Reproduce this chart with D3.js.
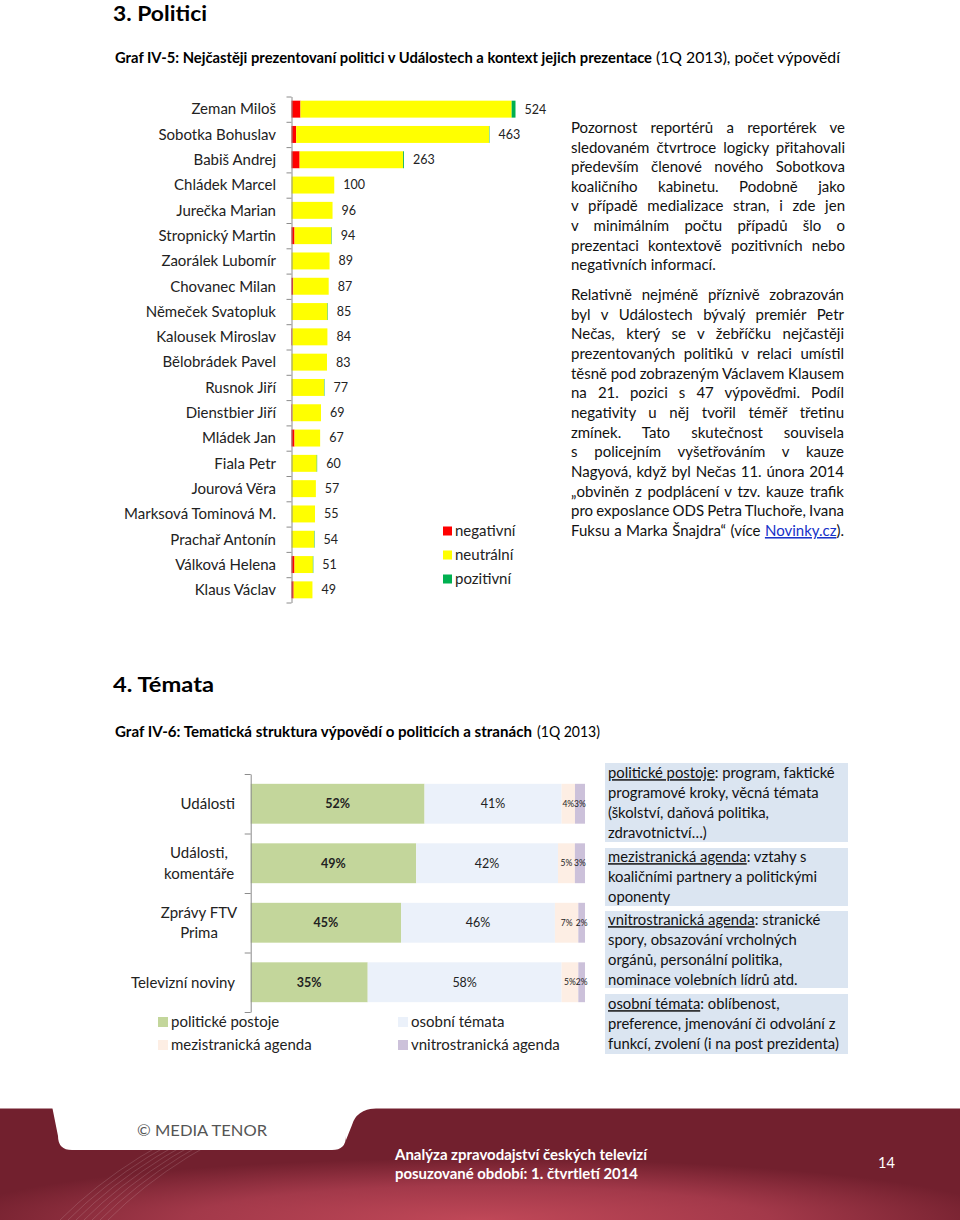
<!DOCTYPE html>
<html><head><meta charset="utf-8">
<script src="https://cdn.jsdelivr.net/npm/d3@7"></script>
<style>
html,body{margin:0;padding:0;background:#fff;}
svg{display:block;font-family:Lato, "Open Sans", sans-serif;}
</style></head>
<body>
<svg id="c" width="960" height="1220"></svg>
<script>
// ---------- DATA ----------
const politicians = ["Zeman Miloš","Sobotka Bohuslav","Babiš Andrej","Chládek Marcel","Jurečka Marian","Stropnický Martin","Zaorálek Lubomír","Chovanec Milan","Němeček Svatopluk","Kalousek Miroslav","Bělobrádek Pavel","Rusnok Jiří","Dienstbier Jiří","Mládek Jan","Fiala Petr","Jourová Věra","Marksová Tominová M.","Prachař Antonín","Válková Helena","Klaus Václav"];
const totals   = [524,463,263,100,96,94,89,87,85,84,83,77,69,67,60,57,55,54,51,49];
const negative = [21,11,19,0,0,7,0,4,0,2,0,0,2,7,0,0,0,0,7,5];
const positive = [9,1,2,0,0,1,0,0,1,0,0,1,0,0,1,0,0,1,1,0];
const toneKeys = ["negativní","neutrální","pozitivní"];
const toneColors = ["#ff0000","#ffff00","#00b050"];

const media = ["Události","Události, komentáře","Zprávy FTV Prima","Televizní noviny"];
const mediaLabelLines = [["Události"],["Události,","komentáře"],["Zprávy FTV","Prima"],["Televizní noviny"]];
const postoje = [52,49,45,35];
const osobni  = [41,42,46,58];
const mezi    = [4,5,7,5];
const vnitro  = [3,3,2,2];
const topicKeys = ["politické postoje","osobní témata","mezistranická agenda","vnitrostranická agenda"];
const topicColors = ["#c3d69b","#ebf1fa","#fdeee4","#ccc1da"];

const para1 = ["Pozornost reportérů a reportérek ve","sledovaném čtvrtroce logicky přitahovali","především členové nového Sobotkova","koaličního kabinetu. Podobně jako","v případě medializace stran, i zde jen","v minimálním počtu případů šlo o","prezentaci kontextově pozitivních nebo","negativních informací."];
const para2 = ["Relativně nejméně příznivě zobrazován","byl v Událostech bývalý premiér Petr","Nečas, který se v žebříčku nejčastěji","prezentovaných politiků v relaci umístil","těsně pod zobrazeným Václavem Klausem","na 21. pozici s 47 výpověďmi. Podíl","negativity u něj tvořil téměř třetinu","zmínek. Tato skutečnost souvisela","s policejním vyšetřováním v kauze","Nagyová, když byl Nečas 11. února 2014","„obviněn z podplácení v tzv. kauze trafik","pro exposlance ODS Petra Tluchoře, Ivana","Fuksu a Marka Šnajdra“ (více |Novinky.cz|)."];

const defs = [
  {term:"politické postoje", rest:": program, faktické", lines:["programové kroky, věcná témata","(školství, daňová politika,","zdravotnictví…)"]},
  {term:"mezistranická agenda", rest:": vztahy s", lines:["koaličními partnery a politickými","oponenty"]},
  {term:"vnitrostranická agenda", rest:": stranické", lines:["spory, obsazování vrcholných","orgánů, personální politika,","nominace volebních lídrů atd."]},
  {term:"osobní témata", rest:": oblíbenost,", lines:["preference, jmenování či odvolání z","funkcí, zvolení (i na post prezidenta)"]}
];

// ---------- HELPERS ----------
const svg = d3.select("#c");
svg.append("rect").attr("width",960).attr("height",1220).attr("fill","#fff");
function fit(sel, w){ sel.attr("textLength", w).attr("lengthAdjust","spacingAndGlyphs"); return sel; }
function heading(x, y, boldTxt, boldW, regTxt, regX, regW, size){
  fit(svg.append("text").attr("x",x).attr("y",y).attr("font-weight","bold").attr("font-size",size).attr("fill","#000").text(boldTxt), boldW);
  if (regTxt) fit(svg.append("text").attr("x",regX).attr("y",y).attr("font-size",size).attr("fill","#000").text(regTxt), regW);
}

// ---------- HEADINGS ----------
heading(113, 21, "3.  Politici", 94, null, 0, 0, 20);
heading(115, 63, "Graf IV-5: Nejčastěji prezentovaní politici v Událostech a kontext jejich prezentace", 537, "(1Q 2013), počet výpovědí", 656, 184, 15);
heading(113, 692, "4.  Témata", 101, null, 0, 0, 20);
heading(115, 737, "Graf IV-6: Tematická struktura výpovědí o politicích a stranách", 417, "(1Q 2013)", 537, 63, 15);

// ---------- CHART 1 ----------
const y1 = d3.scaleBand().domain(politicians).range([96.5, 602.5]).paddingInner(0.33).paddingOuter(0.165);
const x1 = d3.scaleLinear().domain([0, 524]).range([291.5, 515.5]);
const rows1 = politicians.map((n,i)=>({name:n, "negativní":negative[i], "neutrální":totals[i]-negative[i]-positive[i], "pozitivní":positive[i], total:totals[i]}));
const stack1 = d3.stack().keys(toneKeys)(rows1);
const g1 = svg.append("g");
g1.selectAll("g.s").data(stack1).join("g").attr("fill",(d,i)=>toneColors[i])
  .selectAll("rect").data(d=>d).join("rect")
  .attr("x",d=>x1(d[0])).attr("width",d=>x1(d[1])-x1(d[0]))
  .attr("y",d=>y1(d.data.name)).attr("height",y1.bandwidth());
const yb1 = d3.scaleLinear().domain([0, politicians.length]).range([96.5, 602.5]);
const ax1 = svg.append("g").attr("transform","translate(291.5,0)")
  .call(d3.axisLeft(yb1).tickValues(d3.range(0,21)).tickFormat("").tickSize(5).tickSizeOuter(0));
ax1.selectAll("path,line").attr("stroke","#8c8c8c");
svg.append("g").selectAll("text").data(politicians).join("text")
  .attr("x",276).attr("y",d=>y1(d)+y1.bandwidth()/2).attr("dy","0.35em")
  .attr("text-anchor","end").attr("font-size",15).attr("fill","#222").text(d=>d);
svg.append("g").selectAll("text").data(rows1).join("text")
  .attr("x",d=>x1(d.total)+9).attr("y",d=>y1(d.name)+y1.bandwidth()/2).attr("dy","0.35em")
  .attr("font-size",12.5).attr("fill","#222").text(d=>d.total);
const lg1 = svg.append("g").selectAll("g").data(toneKeys).join("g")
  .attr("transform",(d,i)=>`translate(443,${531+i*24})`);
lg1.append("rect").attr("x",0).attr("y",-4.5).attr("width",9).attr("height",9).attr("fill",(d,i)=>toneColors[i]);
lg1.append("text").attr("x",12).attr("dy","0.35em").attr("font-size",15).attr("fill","#222").text(d=>d);

// ---------- PARAGRAPHS ----------
function justifyLines(lines, x0, w, yStart, lh, lastLeft){
  lines.forEach((ln, i)=>{
    const t = svg.append("text").attr("x",x0).attr("y",yStart+i*lh).attr("font-size",15).attr("fill","#111");
    const parts = ln.split("|");
    parts.forEach((p,k)=>{
      const ts = t.append("tspan").text(p);
      if (k===1) ts.attr("fill","#1530c8").attr("text-decoration","underline");
    });
    const nat = t.node().getComputedTextLength();
    const spaces = (ln.match(/ /g)||[]).length;
    const isLast = lastLeft && i===lines.length-1;
    if (!isLast && spaces>0) t.attr("word-spacing", (w-nat)/spaces);
  });
}
justifyLines(para1, 571, 274, 133, 19.6, true);
justifyLines(para2, 571, 273, 300, 19.67, false);

// ---------- CHART 2 ----------
const rows2 = media.map((m,i)=>({media:m, "politické postoje":postoje[i], "osobní témata":osobni[i], "mezistranická agenda":mezi[i], "vnitrostranická agenda":vnitro[i]}));
const stack2 = d3.stack().keys(topicKeys).offset(d3.stackOffsetExpand)(rows2);
const y2 = d3.scaleBand().domain(media).range([774, 1012]).paddingInner(0.33).paddingOuter(0.165);
const x2 = d3.scaleLinear().domain([0,1]).range([250.7, 585]);
const g2 = svg.append("g");
const layers = g2.selectAll("g.s").data(stack2).join("g").attr("fill",(d,i)=>topicColors[i]);
layers.selectAll("rect").data(d=>d).join("rect")
  .attr("x",d=>x2(d[0])).attr("width",d=>x2(d[1])-x2(d[0]))
  .attr("y",d=>y2(d.data.media)).attr("height",y2.bandwidth());
layers.each(function(layer, li){
  d3.select(this).selectAll("text").data(layer).join("text")
    .attr("x",d=>(x2(d[0])+x2(d[1]))/2)
    .attr("y",d=>y2(d.data.media)+y2.bandwidth()/2).attr("dy","0.35em")
    .attr("text-anchor","middle")
    .attr("font-size", li<2 ? 12.5 : 8.5)
    .attr("font-weight", li===0 ? "bold" : "normal")
    .attr("fill","#222")
    .text(d=>d.data[layer.key]+"%");
});
const yb2 = d3.scaleLinear().domain([0,4]).range([774,1012]);
const ax2 = svg.append("g").attr("transform","translate(250.7,0)")
  .call(d3.axisLeft(yb2).tickValues([0,1,2,3,4]).tickFormat("").tickSize(6).tickSizeOuter(0));
ax2.selectAll("path,line").attr("stroke","#8c8c8c");
media.forEach((m,i)=>{
  const lines = mediaLabelLines[i];
  const cy = y2(m)+y2.bandwidth()/2;
  lines.forEach((l,k)=>{
    svg.append("text").attr("x", lines.length>1 ? 199 : 235).attr("y",cy+(k-(lines.length-1)/2)*20.5).attr("dy","0.35em")
      .attr("text-anchor", lines.length>1 ? "middle":"end")
      .attr("font-size",15).attr("fill","#222").text(l);
  });
});
const lgPos = [[158,1022],[398,1022],[158,1045],[398,1045]];
const lg2 = svg.append("g").selectAll("g").data(topicKeys).join("g")
  .attr("transform",(d,i)=>`translate(${lgPos[i][0]},${lgPos[i][1]})`);
lg2.append("rect").attr("y",-5).attr("width",10).attr("height",10).attr("fill",(d,i)=>topicColors[i]);
lg2.append("text").attr("x",13).attr("dy","0.35em").attr("font-size",15).attr("fill","#222").text(d=>d);

// ---------- DEFINITION BOXES ----------
const boxes = [[763,842,773],[848,906,857],[911,988,920],[994,1054,1004]];
defs.forEach((d,i)=>{
  const [t,b,ly] = boxes[i];
  svg.append("rect").attr("x",605).attr("y",t).attr("width",243).attr("height",b-t).attr("fill","#dbe5f1");
  const first = svg.append("text").attr("x",608).attr("y",ly).attr("dy","0.35em").attr("font-size",14.8).attr("fill","#111");
  first.append("tspan").attr("text-decoration","underline").text(d.term);
  first.append("tspan").text(d.rest);
  d.lines.forEach((l,k)=>{
    svg.append("text").attr("x",608).attr("y",ly+(k+1)*19.9).attr("dy","0.35em").attr("font-size",14.8).attr("fill","#111").text(l);
  });
});

// ---------- FOOTER ----------
const dg = svg.append("defs");
const rg = dg.append("radialGradient").attr("id","fg").attr("cx","0.5").attr("cy","1").attr("r","0.55");
rg.append("stop").attr("offset","0").attr("stop-color","#c04858");
rg.append("stop").attr("offset","0.55").attr("stop-color","#a3394a");
rg.append("stop").attr("offset","1").attr("stop-color","#72202e");
svg.append("rect").attr("x",0).attr("y",1108).attr("width",960).attr("height",112).attr("fill","url(#fg)");
const arcG = svg.append("g").attr("fill","none").attr("stroke","#ffffff").attr("stroke-opacity",0.18).attr("stroke-width",0.8);
[0,8,16,24,32,40,48].forEach(o=>{
  arcG.append("path").attr("d",`M${60+o},1220 Q${130+o},1150 ${240+o},1108`);
});
svg.append("path").attr("d","M52,1106 L346,1106 L346,1136 Q346,1150 332,1150 L72,1150 Q58,1150 58,1136 Z").attr("fill","#ffffff");
svg.append("path").attr("d","M0,1104 L960,1104 L960,1108.5 L0,1108.5 Z").attr("fill","#ffffff");
svg.append("path").attr("d","M346,1108 L376,1108 Q356,1110 352,1125 L346,1140 Z").attr("fill","#ffffff");
fit(svg.append("text").attr("x",137).attr("y",1136).attr("font-size",15).attr("fill","#555").text("© MEDIA TENOR"),130);
fit(svg.append("text").attr("x",395).attr("y",1160).attr("font-size",14.5).attr("font-weight","bold").attr("fill","#fff").text("Analýza zpravodajství českých televizí"),252);
fit(svg.append("text").attr("x",395).attr("y",1179).attr("font-size",14.5).attr("font-weight","bold").attr("fill","#fff").text("posuzované období: 1. čtvrtletí 2014"),243);
svg.append("text").attr("x",878).attr("y",1168).attr("font-size",14.5).attr("fill","#fff").text("14");
</script>
</body></html>
